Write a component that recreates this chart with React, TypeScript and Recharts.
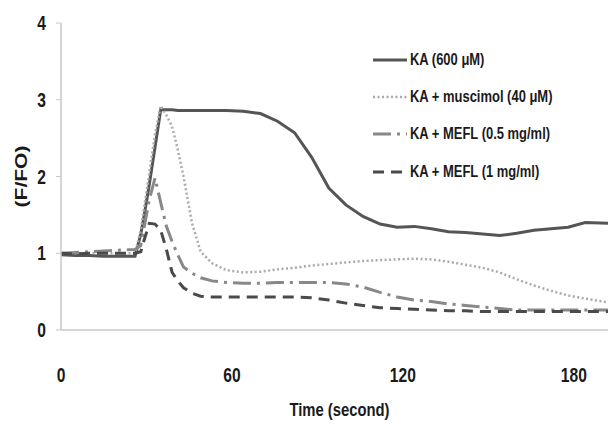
import { LineChart, Line, XAxis, YAxis } from 'recharts'

const times = [0, 5, 10, 15, 20, 26, 28, 29, 31, 33, 35, 37, 39, 41, 43, 46, 49, 53, 58, 64, 70, 76, 82, 88, 94, 100, 106, 112, 118, 124, 130, 136, 142, 148, 154, 160, 166, 172, 178, 184, 192]
const ka = [0.98, 0.97, 0.97, 0.96, 0.96, 0.96, 1.25, 1.45, 1.9, 2.38, 2.87, 2.87, 2.87, 2.86, 2.86, 2.86, 2.86, 2.86, 2.86, 2.85, 2.82, 2.72, 2.57, 2.25, 1.85, 1.63, 1.48, 1.38, 1.34, 1.35, 1.32, 1.28, 1.27, 1.25, 1.23, 1.26, 1.3, 1.32, 1.34, 1.4, 1.39]
const muscimol = [1.0, 1.0, 1.0, 1.0, 1.0, 1.0, 1.3, 1.55, 2.05, 2.55, 2.92, 2.8, 2.65, 2.35, 2.0, 1.39, 1.02, 0.87, 0.78, 0.75, 0.76, 0.79, 0.81, 0.84, 0.86, 0.88, 0.9, 0.91, 0.92, 0.93, 0.92, 0.89, 0.85, 0.81, 0.75, 0.66, 0.58, 0.51, 0.45, 0.41, 0.36]
const mefl05 = [1.0, 1.01, 1.02, 1.03, 1.04, 1.05, 1.1, 1.3, 1.7, 1.98, 1.66, 1.35, 1.15, 0.98, 0.82, 0.74, 0.68, 0.64, 0.62, 0.61, 0.61, 0.62, 0.62, 0.62, 0.62, 0.6, 0.56, 0.49, 0.43, 0.39, 0.37, 0.34, 0.32, 0.3, 0.28, 0.26, 0.26, 0.26, 0.26, 0.26, 0.26]
const mefl1 = [1.0, 0.99, 1.0, 1.0, 1.0, 1.0, 1.02, 1.15, 1.39, 1.38, 1.3, 1.05, 0.75, 0.64, 0.55, 0.48, 0.44, 0.43, 0.43, 0.43, 0.43, 0.43, 0.43, 0.42, 0.39, 0.35, 0.32, 0.29, 0.28, 0.27, 0.26, 0.25, 0.25, 0.24, 0.24, 0.24, 0.24, 0.24, 0.24, 0.24, 0.24]
const xTicks = [0, 60, 120, 180]
const yTicks = [0, 1, 2, 3, 4]

const data = times.map((t, i) => ({ t, ka: ka[i], muscimol: muscimol[i], mefl05: mefl05[i], mefl1: mefl1[i] }))

const series = [
  { key: 'ka', name: 'KA (600 μM)', color: '#555', width: 3, dash: undefined },
  { key: 'muscimol', name: 'KA + muscimol (40 μM)', color: '#aaa', width: 2.5, dash: '2 2.5' },
  { key: 'mefl05', name: 'KA + MEFL (0.5 mg/ml)', color: '#888', width: 3, dash: '18 6 3 6' },
  { key: 'mefl1', name: 'KA + MEFL (1 mg/ml)', color: '#4a4a4a', width: 3, dash: '11 7' },
]

const font = '"Liberation Sans", Arial, sans-serif'
const sx = 0.78
const textStyle = { fontFamily: font, fontWeight: 'bold' as const, fill: '#1a1a1a' }

const XTick = ({ x, y, payload }: any) => (
  <text transform={`translate(${x},${y}) scale(${sx},1)`} textAnchor="middle" dy="0.71em" fontSize={20} style={textStyle}>
    {payload.value}
  </text>
)

const YTick = ({ x, y, payload }: any) => (
  <text transform={`translate(${x},${y}) scale(${sx},1)`} textAnchor="end" dy="0.36em" fontSize={20} style={textStyle}>
    {payload.value}
  </text>
)

const XTitle = ({ viewBox }: any) => (
  <text transform={`translate(${viewBox.x + viewBox.width / 2 + 5},${viewBox.y + 86}) scale(${sx},1)`} textAnchor="middle" fontSize={19} style={textStyle}>
    Time (second)
  </text>
)

const YTitle = ({ viewBox }: any) => (
  <text transform={`translate(${viewBox.x + 27},${viewBox.y + viewBox.height / 2}) scale(${sx},1) rotate(-90)`} textAnchor="middle" fontSize={21} style={textStyle}>
    (F/FO)
  </text>
)

function LegendBox() {
  return (
    <div style={{ position: 'absolute', left: 373, top: 41, fontFamily: font, fontWeight: 'bold', fontSize: 16, color: '#1a1a1a' }}>
      {series.map(s => (
        <div key={s.key} style={{ display: 'flex', alignItems: 'center', height: 37.3, whiteSpace: 'nowrap' }}>
          <svg width={34} height={10} style={{ marginRight: 3 }}>
            <line x1={0} y1={5} x2={34} y2={5} stroke={s.color} strokeWidth={s.width} strokeDasharray={s.dash} />
          </svg>
          <span style={{ display: 'inline-block', transform: `scaleX(${sx + 0.03})`, transformOrigin: 'left center' }}>{s.name}</span>
        </div>
      ))}
    </div>
  )
}

export default function App() {
  return (
    <div style={{ position: 'absolute', left: 0, top: 0, width: 610, height: 427, background: '#fff' }}>
      <LineChart width={610} height={427} data={data} margin={{ top: 23, right: 2, bottom: 0, left: 0 }}>
        <XAxis
          dataKey="t"
          type="number"
          domain={[0, 192]}
          ticks={xTicks}
          axisLine={{ stroke: '#c8c8c8', strokeWidth: 1.5 }}
          tickLine={false}
          tickSize={0}
          tickMargin={38}
          height={97}
          tick={<XTick />}
          label={<XTitle />}
        />
        <YAxis
          domain={[0, 4]}
          ticks={yTicks}
          width={61}
          axisLine={{ stroke: '#c8c8c8', strokeWidth: 1.5 }}
          tickLine={{ stroke: '#c8c8c8' }}
          tickSize={5}
          tickMargin={10}
          tick={<YTick />}
          label={<YTitle />}
        />
        {series.map(s => (
          <Line
            key={s.key}
            dataKey={s.key}
            name={s.name}
            type="linear"
            stroke={s.color}
            strokeWidth={s.width}
            strokeDasharray={s.dash}
            dot={false}
            isAnimationActive={false}
          />
        ))}
      </LineChart>
      <LegendBox />
    </div>
  )
}
